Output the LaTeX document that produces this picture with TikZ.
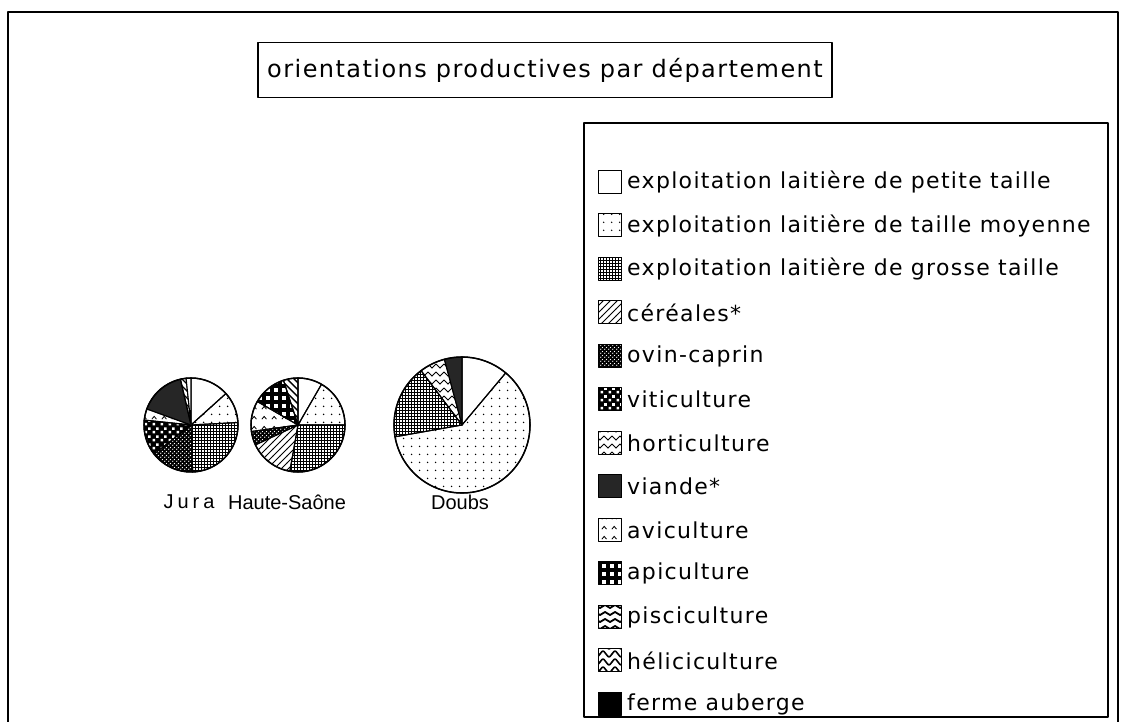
\documentclass[tikz,border=0pt]{standalone}
\usepackage{fontspec}
\setmainfont{DejaVu Sans}
\newfontfamily\legendfont[LetterSpace=6]{DejaVu Sans}
\newfontfamily\labelfont{Liberation Sans}
\newfontfamily\spacedfont[LetterSpace=20]{Liberation Sans}
\usetikzlibrary{patterns}

\newcommand{\legfont}{\legendfont\fontsize{22}{26}\selectfont}
\newcommand{\titfont}{\legendfont\fontsize{24}{28}\selectfont}
\newcommand{\piefont}{\fontsize{20}{24}\selectfont}

\pgfdeclarepatternformonly{sparsedots}{\pgfpointorigin}{\pgfpoint{8pt}{8pt}}{\pgfpoint{8pt}{8pt}}{%
  \pgfpathcircle{\pgfpoint{4pt}{4pt}}{0.9pt}\pgfusepath{fill}}
\pgfdeclarepatternformonly{finegrid}{\pgfpoint{-0.5pt}{-0.5pt}}{\pgfpoint{3.5pt}{3.5pt}}{\pgfpoint{3pt}{3pt}}{%
  \pgfsetlinewidth{0.7pt}
  \pgfpathmoveto{\pgfpoint{0pt}{0pt}}\pgfpathlineto{\pgfpoint{3pt}{0pt}}
  \pgfpathmoveto{\pgfpoint{0pt}{0pt}}\pgfpathlineto{\pgfpoint{0pt}{3pt}}
  \pgfusepath{stroke}}
\pgfdeclarepatternformonly{smalldots}{\pgfpointorigin}{\pgfpoint{4pt}{4pt}}{\pgfpoint{4pt}{4pt}}{%
  \pgfpathcircle{\pgfpoint{1pt}{1pt}}{0.8pt}
  \pgfpathcircle{\pgfpoint{3pt}{3pt}}{0.8pt}\pgfusepath{fill}}
\pgfdeclarepatternformonly{bigdots}{\pgfpointorigin}{\pgfpoint{8pt}{8pt}}{\pgfpoint{8pt}{8pt}}{%
  \pgfpathrectangle{\pgfpoint{0.6pt}{0.6pt}}{\pgfpoint{2.8pt}{2.8pt}}
  \pgfpathrectangle{\pgfpoint{4.6pt}{4.6pt}}{\pgfpoint{2.8pt}{2.8pt}}\pgfusepath{fill}}
\pgfdeclarepatternformonly{windows}{\pgfpoint{-2pt}{-2pt}}{\pgfpoint{10pt}{10pt}}{\pgfpoint{8pt}{8pt}}{%
  \pgfsetlinewidth{3.4pt}
  \pgfpathmoveto{\pgfpoint{0pt}{0pt}}\pgfpathlineto{\pgfpoint{8pt}{0pt}}
  \pgfpathmoveto{\pgfpoint{0pt}{0pt}}\pgfpathlineto{\pgfpoint{0pt}{8pt}}
  \pgfusepath{stroke}}
\pgfdeclarepatternformonly{carets}{\pgfpointorigin}{\pgfpoint{10pt}{10pt}}{\pgfpoint{10pt}{10pt}}{%
  \pgfsetlinewidth{0.9pt}
  \pgfpathmoveto{\pgfpoint{2pt}{3pt}}\pgfpathlineto{\pgfpoint{4.5pt}{6pt}}\pgfpathlineto{\pgfpoint{7pt}{3pt}}
  \pgfusepath{stroke}}
\pgfdeclarepatternformonly{zigzag}{\pgfpoint{-1pt}{-1pt}}{\pgfpoint{9pt}{9pt}}{\pgfpoint{8pt}{8pt}}{%
  \pgfsetlinewidth{1pt}
  \pgfpathmoveto{\pgfpoint{0pt}{2pt}}\pgfpathlineto{\pgfpoint{4pt}{6pt}}\pgfpathlineto{\pgfpoint{8pt}{2pt}}
  \pgfusepath{stroke}}
\pgfdeclarepatternformonly{waves}{\pgfpoint{-1pt}{-1pt}}{\pgfpoint{11pt}{8pt}}{\pgfpoint{10pt}{7pt}}{%
  \pgfsetlinewidth{1.8pt}
  \pgfpathmoveto{\pgfpoint{0pt}{2pt}}
  \pgfpathlineto{\pgfpoint{5pt}{5pt}}\pgfpathlineto{\pgfpoint{10pt}{2pt}}
  \pgfusepath{stroke}}
\pgfdeclarepatternformonly{snakes}{\pgfpoint{-1pt}{-1pt}}{\pgfpoint{13pt}{9pt}}{\pgfpoint{12pt}{8pt}}{%
  \pgfsetlinewidth{1.6pt}
  \pgfpathmoveto{\pgfpoint{0pt}{4pt}}
  \pgfpathcurveto{\pgfpoint{3pt}{8pt}}{\pgfpoint{3pt}{8pt}}{\pgfpoint{6pt}{4pt}}
  \pgfpathcurveto{\pgfpoint{9pt}{0pt}}{\pgfpoint{9pt}{0pt}}{\pgfpoint{12pt}{4pt}}
  \pgfusepath{stroke}}
\pgfdeclarepatternformonly{hatchne}{\pgfpoint{-1pt}{-1pt}}{\pgfpoint{8pt}{8pt}}{\pgfpoint{7pt}{7pt}}{%
  \pgfsetlinewidth{1pt}
  \pgfpathmoveto{\pgfpoint{0pt}{0pt}}\pgfpathlineto{\pgfpoint{7pt}{7pt}}
  \pgfusepath{stroke}}
\pgfdeclarepatternformonly{hatchnw}{\pgfpoint{-1pt}{-1pt}}{\pgfpoint{8pt}{8pt}}{\pgfpoint{7pt}{7pt}}{%
  \pgfsetlinewidth{1.4pt}
  \pgfpathmoveto{\pgfpoint{0pt}{7pt}}\pgfpathlineto{\pgfpoint{7pt}{0pt}}
  \pgfusepath{stroke}}

\tikzset{
  slice/.style={draw=black,line width=1.1pt},
  sPetite/.style={fill=white},
  sMoyenne/.style={pattern=sparsedots},
  sGrosse/.style={pattern=finegrid},
  sCereales/.style={pattern=hatchne},
  sOvin/.style={preaction={fill=black},pattern=smalldots,pattern color=white},
  sViti/.style={preaction={fill=black},pattern=bigdots,pattern color=white},
  sHorti/.style={pattern=zigzag},
  sViande/.style={fill=black!85},
  sAvi/.style={pattern=carets},
  sApi/.style={pattern=windows},
  sPisci/.style={pattern=waves},
  sHelici/.style={pattern=snakes},
  sHatch/.style={pattern=hatchnw},
  sFerme/.style={fill=black},
}

\newcommand{\pieslice}[5]{% centre, rayon, debut, fin, style
  \draw[slice,#5] (#1) -- ++(#3:#2) arc[start angle=#3,end angle=#4,radius=#2] -- cycle;}

\begin{document}
\begin{tikzpicture}[line cap=round,line join=round,x=1pt,y=1pt]
\useasboundingbox (0,0) rectangle (1124,722);
\clip (0,0) rectangle (1124,722);
\fill[white] (0,0) rectangle (1124,722);
\draw[line width=1.3pt] (8,-20) rectangle (1118,710);

% titre
\node[draw,line width=1.2pt,minimum width=574pt,minimum height=55pt,font=\titfont] (title) at (545,652) {orientations productives par d\'epartement};

% camemberts
\coordinate (jura) at (191,297);
\coordinate (hsaone) at (298,297);
\coordinate (doubs) at (462,297);
\foreach \a/\b/\s in {90/42/sPetite,42/3/sMoyenne,3/-88/sGrosse,-88/-142/sOvin,-142/-186/sViti,174/160/sAvi,160/103/sViande,103/96/sHatch,96/90/sPetite}
  \pieslice{jura}{47pt}{\a}{\b}{\s};
\foreach \a/\b/\s in {90/60/sPetite,60/0/sMoyenne,0/-100/sGrosse,-100/-155/sCereales,-155/-172/sOvin,188/150/sAvi,150/108/sApi,108/90/sHatch}
  \pieslice{hsaone}{47pt}{\a}{\b}{\s};
\foreach \a/\b/\s in {90/50/sPetite,50/-170/sMoyenne,190/127/sGrosse,127/105/sHorti,105/90/sViande}
  \pieslice{doubs}{68pt}{\a}{\b}{\s};
\draw[line width=1.5pt] (jura) circle (47pt);
\draw[line width=1.5pt] (hsaone) circle (47pt);
\draw[line width=1.5pt] (doubs) circle (68pt);
\node[font=\spacedfont\piefont] (ljura) at (189,220) {Jura};
\node[font=\labelfont\piefont] (lhsaone) at (287,220) {Haute-Sa\^one};
\node[font=\labelfont\piefont] (ldoubs) at (460,220) {Doubs};

% legende
\draw[line width=1.3pt] (584,5) rectangle (1108,599);
\foreach \s/\t [count=\i from 0] in {sPetite/exploitation laiti\`ere de petite taille,sMoyenne/exploitation laiti\`ere de taille moyenne,sGrosse/exploitation laiti\`ere de grosse taille,sCereales/c\'er\'eales*,sOvin/ovin-caprin,sViti/viticulture,sHorti/horticulture,sViande/viande*,sAvi/aviculture,sApi/apiculture,sPisci/pisciculture,sHelici/h\'eliciculture,sFerme/ferme auberge}
{
  \pgfmathsetmacro\yy{540-43.5*\i}
  \node[draw,line width=1pt,\s,minimum size=23pt,inner sep=0pt] (sw\i) at (610,\yy) {};
  \node[anchor=west,inner sep=0pt,font=\legfont] (leg\i) at (627,\yy) {\t};
}
\end{tikzpicture}
\end{document}
